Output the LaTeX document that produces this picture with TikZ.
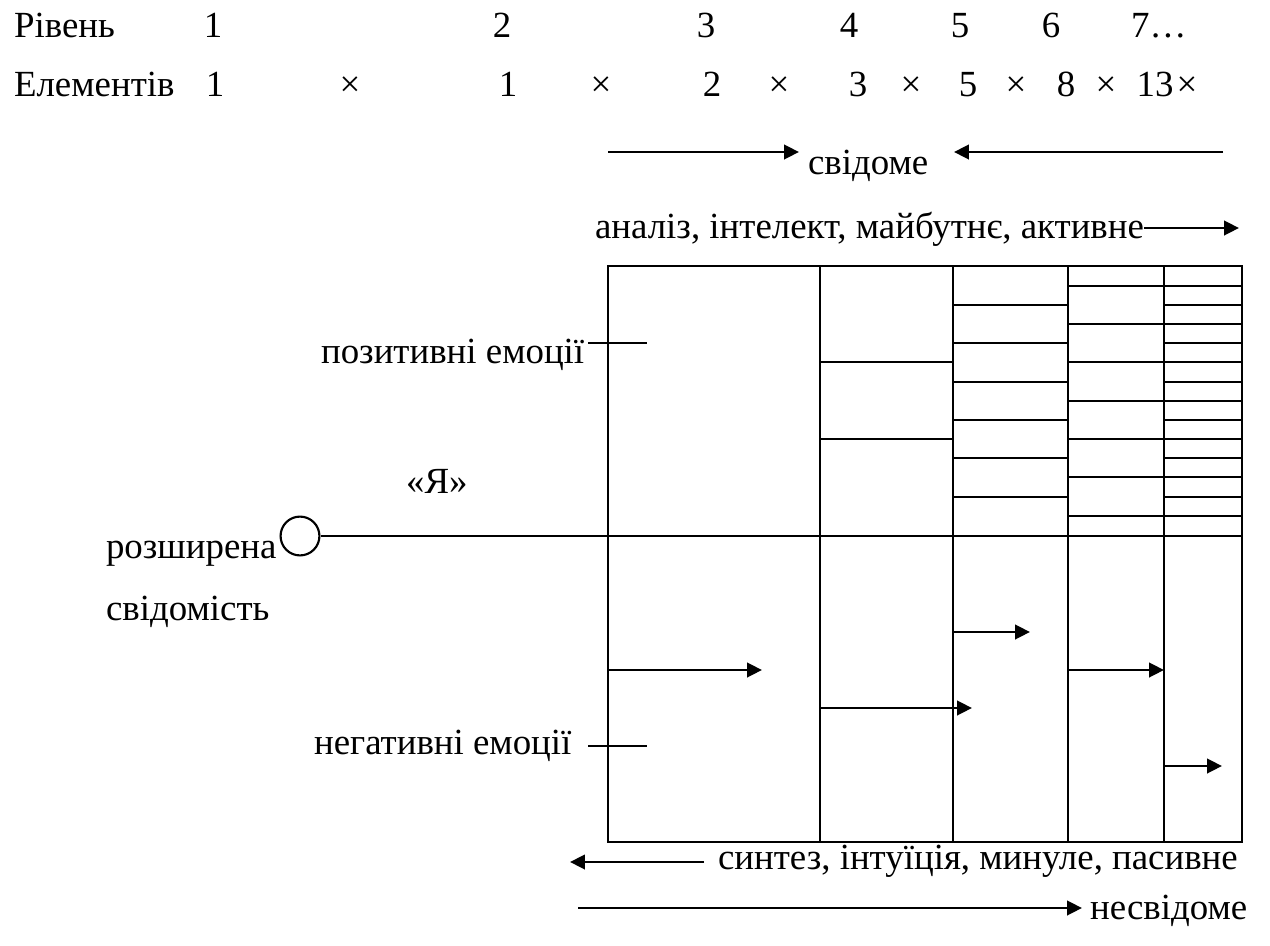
\documentclass[tikz,border=0pt]{standalone}
\usepackage{fontspec}
\setmainfont{Liberation Serif}
\usetikzlibrary{arrows.meta, positioning, calc}
\tikzset{
    scheme/.style={x=0.35pt, y=-0.35pt, line width=0.75pt, >={Triangle[length=5.2pt, width=5pt]}, font=\fontsize{12.9}{15}\selectfont},
    txt/.style={inner sep=0pt, anchor=base west},
    num/.style={inner sep=0pt, anchor=base},
    flow/.style={->, line width=1pt},
    self/.style={draw, circle, inner sep=0pt, minimum size=13.6pt},
}
\begin{document}
\begin{tikzpicture}[scheme]
        \useasboundingbox (0,0) rectangle (1270,946);

        % levels and elements
        \node[txt] (level) at (13,37) {Рівень};
        \foreach \n/\x in {1/213, 2/502, 3/706, 4/849, 5/960, 6/1051}
            \node[num] (l\n) at (\x,37) {\n};
        \node[txt] (l7) at (1130,37) {7…};
        \node[txt] (elem) at (13,96) {Елементів};
        \foreach \n/\v/\x in {1/1/215, 2/1/508, 3/2/712, 4/3/858, 5/5/968, 6/8/1066, 7/13/1155}
            \node[num] (e\n) at (\x,96) {\v};
        \foreach \n/\x in {1/350, 2/601, 3/779, 4/911, 5/1016, 6/1106, 7/1187}
            \node[num] (m\n) at (\x,96) {×};

        % conscious
        \node[txt] (svid) at (807,174) {свідоме};
        \coordinate (sa) at (608,152);
        \coordinate (sb) at (799,152);
        \coordinate (sc) at (1223,152);
        \coordinate (sd) at (954,152);
        \draw[flow] (sa) -- (sb);
        \draw[flow] (sc) -- (sd);
        \node[txt] (anal) at (594,238) {аналіз, інтелект, майбутнє, активне};
        \coordinate (aa) at (1144,228);
        \coordinate (ab) at (1239,228);
        \draw[flow] (aa) -- (ab);

        % left labels
        \node[txt] (pos) at (320,363) {позитивні емоції};
        \node[txt] (neg) at (313,754) {негативні емоції};
        \node[txt] (ya) at (405,493) {«Я»};
        \node[txt] (rozsh) at (105,558) {розширена};
        \node[txt] (svidom) at (105,620) {свідомість};
        \node[self] (me) at (300,536) {};
        \coordinate (pa) at (588,343);
        \coordinate (pb) at (647,343);
        \coordinate (na) at (588,746);
        \coordinate (nb) at (647,746);
        \draw (pa) -- (pb);
        \draw (na) -- (nb);

        % grid
        \coordinate (tl) at (608,266);
        \coordinate (br) at (1242,842);
        \coordinate (mr) at (1242,536);
        \draw (tl) rectangle (br);
        \draw (me.east) -- (mr);
        \foreach \x in {820, 953, 1068, 1164}
            \draw (\x,266) -- (\x,842);
        \foreach \y in {362, 439}
            \draw (820,\y) -- (953,\y);
        \foreach \y in {305, 343, 382, 420, 458, 497}
            \draw (953,\y) -- (1068,\y);
        \foreach \y in {286, 324, 362, 401, 439, 477, 516}
            \draw (1068,\y) -- (1164,\y);
        \foreach \y in {286, 305, 324, 343, 362, 382, 401, 420, 439, 458, 477, 497, 516}
            \draw (1164,\y) -- (1242,\y);

        % arrows in the lower half
        \foreach \xa/\xb/\y in {608/762/670, 820/972/708, 953/1030/632, 1068/1164/670, 1164/1222/766}
            \draw[flow] (\xa,\y) -- (\xb,\y);

        % unconscious
        \node[txt] (synth) at (717,869) {синтез, інтуїція, минуле, пасивне};
        \coordinate (ya1) at (704,862);
        \coordinate (yb1) at (570,862);
        \draw[flow] (ya1) -- (yb1);
        \node[txt] (nesv) at (1089,919) {несвідоме};
        \coordinate (na1) at (578,908);
        \coordinate (nb1) at (1082,908);
        \draw[flow] (na1) -- (nb1);
    \end{tikzpicture}
\end{document}
